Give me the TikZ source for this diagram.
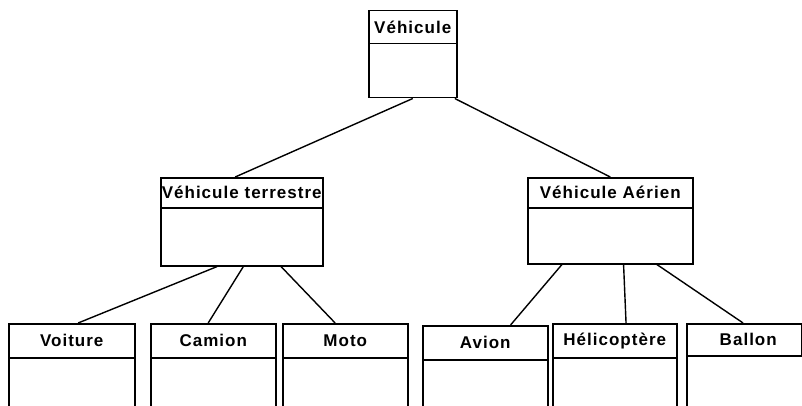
\documentclass[tikz,border=0pt]{standalone}
\usepackage{fontspec}
\setmainfont{Liberation Sans}
\usetikzlibrary{positioning, calc}
\newcommand{\classfont}{\bfseries\fontsize{17}{19}\selectfont\addfontfeatures{LetterSpace=6}}
\tikzset{
	titlebox/.style={draw, line width=1.5pt, anchor=north west, inner sep=0pt, font=\classfont},
	bodybox/.style={draw, line width=1.5pt, anchor=north west, inner sep=0pt},
	link/.style={line width=1.4pt}
}
\begin{document}
\begin{tikzpicture}[x=1pt, y=-1pt]
		\useasboundingbox (0,0) rectangle (802,406);
		
		% top level
		\node[titlebox, minimum width=88pt, minimum height=33pt] (vehicule) at (368,10) {V\'ehicule};
		\node[bodybox, minimum width=88pt, minimum height=54pt] (vehiculebody) at (368,43) {};
		
		% second level
		\node[titlebox, minimum width=162pt, minimum height=30pt] (terrestre) at (160,177) {V\'ehicule terrestre};
		\node[bodybox, minimum width=162pt, minimum height=58pt] (terrestrebody) at (160,207) {};
		\node[titlebox, minimum width=165pt, minimum height=30pt] (aerien) at (527,177) {V\'ehicule A\'erien};
		\node[bodybox, minimum width=165pt, minimum height=56pt] (aerienbody) at (527,207) {};
		
		% leaves
		\node[titlebox, minimum width=126pt, minimum height=34pt] (voiture) at (8,323) {Voiture};
		\node[bodybox, minimum width=126pt, minimum height=70pt] (voiturebody) at (8,357) {};
		\node[titlebox, minimum width=125pt, minimum height=34pt] (camion) at (150,323) {Camion};
		\node[bodybox, minimum width=125pt, minimum height=70pt] (camionbody) at (150,357) {};
		\node[titlebox, minimum width=125pt, minimum height=34pt] (moto) at (282,323) {Moto};
		\node[bodybox, minimum width=125pt, minimum height=70pt] (motobody) at (282,357) {};
		\node[titlebox, minimum width=125pt, minimum height=34pt] (avion) at (422,325) {Avion};
		\node[bodybox, minimum width=125pt, minimum height=70pt] (avionbody) at (422,359) {};
		\node[titlebox, minimum width=124pt, minimum height=34pt] (helico) at (552,323) {H\'elicopt\`ere};
		\node[bodybox, minimum width=124pt, minimum height=70pt] (helicobody) at (552,357) {};
		\node[titlebox, minimum width=115pt, minimum height=32pt] (ballon) at (686,323) {\hspace{8pt}Ballon};
		\node[bodybox, minimum width=130pt, minimum height=72pt] (ballonbody) at (686,355) {};
		
		% links
		\draw[link] ($(vehiculebody.south west)!0.5!(vehiculebody.south east)$) -- ($(terrestre.north west)!0.46!(terrestre.north east)$);
		\draw[link] ($(vehiculebody.south west)!0.97!(vehiculebody.south east)$) -- ($(aerien.north west)!0.5!(aerien.north east)$);
		\draw[link] ($(terrestrebody.south west)!0.35!(terrestrebody.south east)$) -- ($(voiture.north west)!0.55!(voiture.north east)$);
		\draw[link] ($(terrestrebody.south west)!0.51!(terrestrebody.south east)$) -- ($(camion.north west)!0.46!(camion.north east)$);
		\draw[link] ($(terrestrebody.south west)!0.74!(terrestrebody.south east)$) -- ($(moto.north west)!0.42!(moto.north east)$);
		\draw[link] ($(aerienbody.south west)!0.21!(aerienbody.south east)$) -- ($(avion.north west)!0.7!(avion.north east)$);
		\draw[link] ($(aerienbody.south west)!0.58!(aerienbody.south east)$) -- ($(helico.north west)!0.59!(helico.north east)$);
		\draw[link] ($(aerienbody.south west)!0.78!(aerienbody.south east)$) -- ($(ballon.north west)!0.49!(ballon.north east)$);
	\end{tikzpicture}
\end{document}
